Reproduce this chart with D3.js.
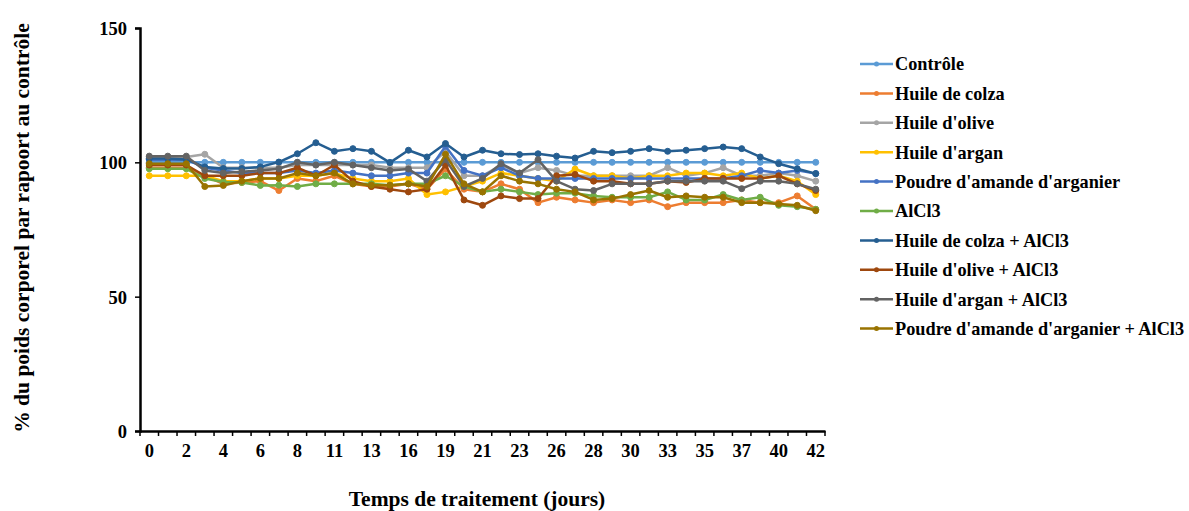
<!DOCTYPE html>
<html><head><meta charset="utf-8">
<script src="https://cdn.jsdelivr.net/npm/d3@7"></script>
<style>
html,body{margin:0;padding:0;background:#fff;}
text{font-family:"Liberation Serif","Times New Roman",serif;font-weight:bold;fill:#000;}
</style></head>
<body><svg id="chart" width="1189" height="511"></svg>
<script>
const days = [0,1,2,3,4,5,6,7,8,9,11,12,13,14,16,17,19,20,21,22,23,25,26,27,28,29,30,31,33,34,35,36,37,38,40,41,42];
const seriesNames = ["Contrôle","Huile de colza","Huile d'olive","Huile d'argan","Poudre d'amande d'arganier","AlCl3","Huile de colza + AlCl3","Huile d'olive + AlCl3","Huile d'argan + AlCl3","Poudre d'amande d'arganier + AlCl3"];
const colors = ["#5B9BD5","#ED7D31","#A5A5A5","#FFC000","#4472C4","#70AD47","#255E91","#9E480E","#636363","#997300"];
const yTicks = [0,50,100,150];

const controle = [100,100,100,100,100,100,100,100,100,100,100,100,100,100,100,100,100,100,100,100,100,100,100,100,100,100,100,100,100,100,100,100,100,100,100,100,100];
const colza = [98,98,98,95,92,92.5,93,89.5,94,93,95,92,91,91,92,90,97.5,90,89,92,90,85,87,86,85,86,85,86,83.5,85,85,85,86,85,85,87.5,82.5];
const olive = [102,102,102,103,98,98,98,98,99,99,99,99,99,98,98,98,104,95,95,99,96,98,97,95,95,95,95,95,98,95,96,98,95,95,96,95,93];
const argan = [95,95,95,95,93,93,94,94,95,95,96,94,93,93,94,88,89,91,93,96,95,94,93,97.5,95,95,94,95,95,96,96,95,96,94,95,93,88];
const poudre = [101,101,101,98,97,96,96,96,97,96,97,96,95,95,96,96,106,97,95,98,95,94,94,94,94,94,94,94,94,94,94,94,95,97,96,97,95.8];
const alcl3 = [97.6,97.6,97.6,94,92.7,92.5,91.4,91.5,91,92,92,92,92,91.5,92,92,95,91,89,90,89,88,88.5,88.5,87.5,87,87,87,89,86,86,88,86,87,84,83.5,82.5];
const colzaAl = [101.4,101.4,101.1,98.3,97.7,97.7,98.3,100.1,103.2,107.3,104.1,105.1,104.1,99.9,104.5,102,107,102,104.5,103.2,102.9,103.2,102.3,101.6,104.1,103.6,104.1,105.1,104.1,104.5,105.1,105.7,105.1,102,99.5,97.6,95.8];
const oliveAl = [99,99,99,95,95,95,96,96,98,95,99,93,91,90,89,90,99,86,84,87.5,86.5,86.5,95,95.5,93,93,92,92,93,92.5,94,94,94,94,95,92,89.5];
const arganAl = [102.3,102.3,102.3,97,96,96.5,97,97.6,100,99,100,99,98,97,97.5,93,101,91,94,99.5,96,101,93,90,89.5,92,92,92,93,93,93,93,90.2,93,93,92,90];
const poudreAl = [99.5,99.5,99.5,91,91.4,93,94,94,96,95,96,92,91.5,91.5,92,91,103,92,89,95,93,92,90,89,86,86.5,88,89.5,87,87.5,87,87,85,85,84.5,84,82];

const allSeries = [controle,colza,olive,argan,poudre,alcl3,colzaAl,oliveAl,arganAl,poudreAl];

const svg = d3.select("#chart");
svg.append("rect").attr("width",1189).attr("height",511).attr("fill","#fff");

const x = d3.scaleBand().domain(days.map(String)).range([140,825]).padding(0);
const y = d3.scaleLinear().domain([0,150]).range([431,28]);
const cx = d => x(String(d)) + x.bandwidth()/2;

// y axis
const yAxis = svg.append("g").attr("transform","translate(140,0)")
  .call(d3.axisLeft(y).tickValues(yTicks).tickSize(5).tickPadding(8).tickFormat(d3.format("d")));
yAxis.select(".domain").attr("stroke","#000").attr("stroke-width",2.5);
yAxis.selectAll(".tick line").attr("stroke","#000").attr("stroke-width",1.5);
yAxis.selectAll(".tick text").style("font-size","18.5px").attr("dy","0.35em");

// x axis (labels at every other category)
const xAxis = svg.append("g").attr("transform","translate(0,431)")
  .call(d3.axisBottom(x).tickSize(0).tickPadding(13).tickSizeOuter(0)
    .tickFormat((d,i)=> i%2===0 ? d : ""));
xAxis.select(".domain").attr("stroke","#000").attr("stroke-width",2.5);
xAxis.selectAll(".tick text").style("font-size","18.5px");
// boundary tick marks between categories
const bounds = days.map(d=>x(String(d))).concat([x.range()[1]]);
svg.append("g").selectAll("line").data(bounds).join("line")
  .attr("x1",d=>d).attr("x2",d=>d).attr("y1",431).attr("y2",436)
  .attr("stroke","#000").attr("stroke-width",1.5);

// series
const line = d3.line().x((v,i)=>cx(days[i])).y(v=>y(v));
allSeries.forEach((vals,k)=>{
  const g = svg.append("g");
  g.append("path").datum(vals).attr("d",line).attr("fill","none")
    .attr("stroke",colors[k]).attr("stroke-width",2.5).attr("stroke-linejoin","round");
  g.selectAll("circle").data(vals).join("circle")
    .attr("cx",(v,i)=>cx(days[i])).attr("cy",v=>y(v)).attr("r",3)
    .attr("fill",colors[k]).attr("stroke",colors[k]);
});

// axis titles
svg.append("text").attr("transform","translate(29,228) rotate(-90)")
  .attr("text-anchor","middle").style("font-size","21.5px")
  .text("% du poids corporel par rapoort au contrôle");
svg.append("text").attr("x",477).attr("y",506).attr("text-anchor","middle")
  .style("font-size","21.5px").text("Temps de traitement (jours)");

// legend
const lg = svg.append("g");
seriesNames.forEach((n,k)=>{
  const yy = 64 + k*29.4;
  lg.append("line").attr("x1",860).attr("x2",893).attr("y1",yy).attr("y2",yy)
    .attr("stroke",colors[k]).attr("stroke-width",2.5);
  lg.append("circle").attr("cx",876.5).attr("cy",yy).attr("r",2.5).attr("fill",colors[k]);
  lg.append("text").attr("x",895).attr("y",yy).attr("dy","0.35em")
    .style("font-size","18.3px").text(n);
});
</script></body></html>
